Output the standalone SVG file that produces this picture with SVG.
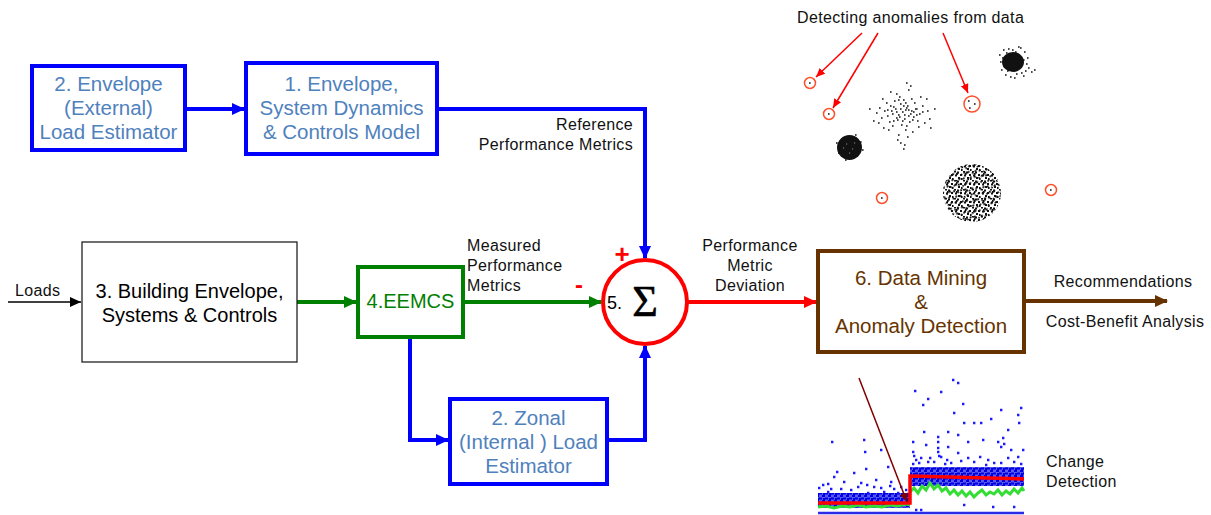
<svg xmlns="http://www.w3.org/2000/svg" width="1211" height="515" viewBox="0 0 1211 515">
<defs>
<style>
text{font-family:"Liberation Sans",Arial,sans-serif}
.bt{font-size:20.5px;fill:#4F81BD;text-anchor:middle}
.lb{font-size:16px;letter-spacing:0.35px;fill:#111}
.bbox{fill:#fff;stroke:#0000FF;stroke-width:4}
.blue{fill:none;stroke:#0000FF;stroke-width:4}
.green{fill:none;stroke:#008000;stroke-width:4}
.red{fill:none;stroke:#FF0000;stroke-width:4}
.brown{fill:none;stroke:#663300;stroke-width:4}
.ann{fill:none;stroke:#FF4F2A;stroke-width:1.5}
.dot{fill:none;stroke:#111;stroke-width:1.7}
.bdot{fill:none;stroke:#1a1aff;stroke-width:2.6}
</style>
<marker id="ab" markerUnits="userSpaceOnUse" markerWidth="14" markerHeight="14" refX="12" refY="7" orient="auto"><path d="M0,1 L13,7 L0,13 z" fill="#0000FF"/></marker>
<marker id="ag" markerUnits="userSpaceOnUse" markerWidth="14" markerHeight="14" refX="12" refY="7" orient="auto"><path d="M0,1 L13,7 L0,13 z" fill="#008000"/></marker>
<marker id="ar" markerUnits="userSpaceOnUse" markerWidth="14" markerHeight="14" refX="12" refY="7" orient="auto"><path d="M0,1 L13,7 L0,13 z" fill="#FF0000"/></marker>
<marker id="abr" markerUnits="userSpaceOnUse" markerWidth="14" markerHeight="14" refX="12" refY="7" orient="auto"><path d="M0,1 L13,7 L0,13 z" fill="#663300"/></marker>
<marker id="ak" markerUnits="userSpaceOnUse" markerWidth="12" markerHeight="12" refX="11" refY="6" orient="auto"><path d="M0,1 L11,6 L0,11 z" fill="#000"/></marker>
<marker id="athin" markerUnits="userSpaceOnUse" markerWidth="10" markerHeight="10" refX="9" refY="5" orient="auto"><path d="M0,1 L9,5 L0,9 z" fill="#FF0000"/></marker>
<marker id="amr" markerUnits="userSpaceOnUse" markerWidth="10" markerHeight="10" refX="9" refY="5" orient="auto"><path d="M0,1 L9,5 L0,9 z" fill="#800000"/></marker>
<pattern id="stip1" width="9" height="9" patternUnits="userSpaceOnUse"><path d="M0,0.5h2M3,1.5h2M6,4h2M1,4.5h2M4,7h2M7,8h1.6M2,3h1.6" stroke="#111" stroke-width="1.8"/></pattern>
<pattern id="stip2" width="8" height="8" patternUnits="userSpaceOnUse" patternTransform="rotate(37)"><path d="M0,0.5h2M4,2.5h2M1,5.5h2" stroke="#111" stroke-width="1.8"/></pattern>
<pattern id="bband" width="6" height="5" patternUnits="userSpaceOnUse"><rect width="6" height="5" fill="#5a5af0"/><path d="M0,1h3M3,3.5h3M1,4h2" stroke="#0000e0" stroke-width="2"/></pattern>
<clipPath id="bigc"><circle cx="972" cy="193" r="29"/></clipPath>
</defs>
<rect width="1211" height="515" fill="#fff"/>

<g id="connectors">
<path class="blue" d="M185,109 H244" marker-end="url(#ab)"/>
<path class="blue" d="M437,109 H645 V258" marker-end="url(#ab)"/>
<line x1="8" y1="302" x2="81" y2="302" stroke="#000" stroke-width="1.3" marker-end="url(#ak)"/>
<path class="green" d="M297,302 H356" marker-end="url(#ag)"/>
<path class="green" d="M463,302 H601" marker-end="url(#ag)"/>
<path class="blue" d="M410,337 V440 H448" marker-end="url(#ab)"/>
<path class="blue" d="M607,440 H645 V346" marker-end="url(#ab)"/>
<path class="red" d="M687,302 H816" marker-end="url(#ar)"/>
<path class="brown" d="M1024,301 H1167" marker-end="url(#abr)"/>
<text class="lb" x="633" y="130" text-anchor="end">Reference</text>
<text class="lb" x="633" y="150" text-anchor="end">Performance Metrics</text>
<text class="lb" x="467" y="251">Measured</text>
<text class="lb" x="467" y="271">Performance</text>
<text class="lb" x="467" y="291">Metrics</text>
<text class="lb" x="750" y="251" text-anchor="middle">Performance</text>
<text class="lb" x="750" y="271" text-anchor="middle">Metric</text>
<text class="lb" x="750" y="291" text-anchor="middle">Deviation</text>
<text class="lb" x="15" y="296">Loads</text>
<text class="lb" x="1123" y="287" text-anchor="middle">Recommendations</text>
<text class="lb" x="1125" y="327" text-anchor="middle">Cost-Benefit Analysis</text>
<text x="622" y="263" text-anchor="middle" style="font-size:26px;font-weight:bold;fill:#FF0000">+</text>
<text x="579" y="293" text-anchor="middle" style="font-size:24px;font-weight:bold;fill:#FF0000">-</text>
</g>

<g id="node-ext-load">
<rect class="bbox" x="32" y="66" width="153" height="84"/>
<text class="bt" x="108.5" y="91">2. Envelope</text>
<text class="bt" x="108.5" y="115">(External)</text>
<text class="bt" x="108.5" y="139">Load Estimator</text>
</g>

<g id="node-model">
<rect class="bbox" x="246" y="63" width="191" height="91"/>
<text class="bt" x="341.5" y="91">1. Envelope,</text>
<text class="bt" x="341.5" y="115">System Dynamics</text>
<text class="bt" x="341.5" y="139">&amp; Controls Model</text>
</g>

<g id="node-building">
<rect x="82" y="242" width="215" height="120" fill="#fff" stroke="#222" stroke-width="1.3"/>
<text x="189.5" y="298" text-anchor="middle" style="font-size:20px;fill:#000">3. Building Envelope,</text>
<text x="189.5" y="322" text-anchor="middle" style="font-size:20px;fill:#000">Systems &amp; Controls</text>
</g>

<g id="node-eemcs">
<rect x="358" y="267" width="105" height="70" fill="#fff" stroke="#008000" stroke-width="4"/>
<text x="410.5" y="308" text-anchor="middle" style="font-size:20px;fill:#008000">4.EEMCS</text>
</g>

<g id="node-zonal">
<rect class="bbox" x="450" y="399" width="157" height="85"/>
<text class="bt" x="528.5" y="425">2. Zonal</text>
<text class="bt" x="528.5" y="449">(Internal ) Load</text>
<text class="bt" x="528.5" y="473">Estimator</text>
</g>

<g id="node-sum">
<circle cx="645" cy="302" r="42" fill="#fff" stroke="#FF0000" stroke-width="4"/>
<text x="607" y="309" style="font-size:18px;fill:#000">5.</text>
<text x="645" y="316" text-anchor="middle" style="font-family:'Liberation Serif','Times New Roman',serif;font-size:44px;fill:#000;stroke:#000;stroke-width:0.6">Σ</text>
</g>

<g id="node-datamining">
<rect x="818" y="251" width="206" height="101" fill="#fff" stroke="#663300" stroke-width="4"/>
<text x="921" y="285" text-anchor="middle" style="font-size:20.5px;fill:#663300">6. Data Mining</text>
<text x="921" y="309" text-anchor="middle" style="font-size:20.5px;fill:#663300">&amp;</text>
<text x="921" y="333" text-anchor="middle" style="font-size:20.5px;fill:#663300">Anomaly Detection</text>
</g>

<g id="anomaly-illustration">
<text class="lb" x="797" y="23">Detecting anomalies from data</text>
<path d="M862,33 L816,77" stroke="#FF0000" stroke-width="1.5" marker-end="url(#athin)"/>
<path d="M878,33 L833,108" stroke="#FF0000" stroke-width="1.5" marker-end="url(#athin)"/>
<path d="M943,33 L968,93" stroke="#FF0000" stroke-width="1.5" marker-end="url(#athin)"/>
<circle class="ann" cx="810" cy="83" r="5.5"/>
<circle class="ann" cx="829" cy="114" r="5.5"/>
<circle class="ann" cx="972" cy="104" r="8"/>
<circle class="ann" cx="882" cy="198" r="5.5"/>
<circle class="ann" cx="1051" cy="190" r="5.5"/>
<path class="dot" d="M809,83h1.6M828,114h1.6M968,101h1.6M974,104h1.6M969,108h1.6M881,198h1.6M1050,190h1.6"/>
<ellipse cx="1013" cy="62" rx="11" ry="10" fill="#111"/>
<path class="dot" d="M999,55h1.6M1001,70h1.6M1003,50h1.6M1020,48h1.6M1027,58h1.6M1028,68h1.6M1031,72h1.6M1023,76h1.6M1010,77h1.6M1005,75h1.6M1018,47h1.6M1008,49h1.6M1000,62h1.6M1026,64h1.6M1034,70h1.6M1014,78h1.6M1003,66h1.6M1024,52h1.6M1006,53h1.6M1016,74h1.6M1025,71h1.6M1002,58h1.6M1004,60h1.6M1023,60h1.6M1021,73h1.6M1007,71h1.6M1012,50h1.6M1015,52h1.6"/>
<circle cx="849.5" cy="147.5" r="12.5" fill="#111"/>
<path class="dot" d="M836,143h1.6M862,150h1.6M845,160h1.6M855,135h1.6M838,153h1.6M860,142h1.6"/>
<path d="M846,144h1.2M852,149h1.2M849,153h1.2M843,148h1.2M854,143h1.2" stroke="#888" stroke-width="1.2"/>
<path class="dot" d="M902,112h1.6M905,110h1.6M898,115h1.6M908,116h1.6M895,109h1.6M904,119h1.6M900,104h1.6M911,111h1.6M892,114h1.6M907,106h1.6M897,120h1.6M913,117h1.6M890,106h1.6M903,100h1.6M901,125h1.6M916,109h1.6M887,116h1.6M909,122h1.6M894,101h1.6M914,103h1.6M889,122h1.6M906,126h1.6M899,97h1.6M919,114h1.6M884,111h1.6M911,99h1.6M892,126h1.6M917,121h1.6M886,103h1.6M922,106h1.6M881,118h1.6M905,130h1.6M896,94h1.6M924,123h1.6M879,108h1.6M912,132h1.6M890,92h1.6M927,111h1.6M876,113h1.6M908,90h1.6M898,135h1.6M920,97h1.6M883,128h1.6M929,119h1.6M897,140h1.6M904,145h1.6M900,143h1.6M910,86h1.6M926,99h1.6M878,123h1.6M915,109h1.6M893,107h1.6M906,108h1.6M899,117h1.6M910,114h1.6M896,112h1.6M902,121h1.6M903,106h1.6M891,111h1.6M913,112h1.6M918,127h1.6M888,130h1.6M922,112h1.6M882,99h1.6M907,137h1.6M930,128h1.6M873,121h1.6M934,109h1.6M869,109h1.6M906,83h1.6M903,149h1.6M904,115h1.6M900,109h1.6M908,110h1.6M896,118h1.6M912,120h1.6M893,121h1.6M905,103h1.6M898,100h1.6M916,115h1.6M887,110h1.6"/>
<g clip-path="url(#bigc)">
<rect x="940" y="160" width="64" height="66" fill="url(#stip1)"/>
<rect x="940" y="160" width="64" height="66" fill="url(#stip2)"/>
</g>
</g>

<g id="change-detection-illustration">
<rect x="818" y="493" width="92" height="15" fill="url(#bband)"/>
<rect x="910" y="467" width="114" height="19" fill="url(#bband)"/>
<path class="bdot" d="M831,442h2.4M863,440h2.4M864,452h2.4M880,450h2.4M887,467h2.4M865,469h2.4M853,473h2.4M836,472h2.4M833,477h2.4M843,482h2.4M860,483h2.4M875,480h2.4M890,482h2.4M900,487h2.4M818,488h2.4M827,492h2.4M850,490h2.4M867,493h2.4M883,492h2.4M897,493h2.4M822,485h2.4M840,489h2.4M873,487h2.4M905,490h2.4M914,391h2.4M940,392h2.4M952,380h2.4M957,383h2.4M927,399h2.4M922,405h2.4M962,404h2.4M953,413h2.4M1000,410h2.4M1020,408h2.4M1017,415h2.4M973,423h2.4M990,419h2.4M980,423h2.4M963,423h2.4M1018,423h2.4M1007,430h2.4M923,432h2.4M947,432h2.4M937,437h2.4M957,435h2.4M912,442h2.4M925,445h2.4M937,442h2.4M947,447h2.4M967,442h2.4M982,440h2.4M997,442h2.4M1000,447h2.4M1010,450h2.4M1022,450h2.4M915,460h2.4M927,462h2.4M940,457h2.4M957,453h2.4M967,458h2.4M987,460h2.4M1007,458h2.4M1017,457h2.4M918,463h2.4M933,462h2.4M950,463h2.4M973,462h2.4M993,463h2.4M1013,462h2.4M937,448h2.4M937,452h2.4M938,456h2.4M912,452h2.4M913,456h2.4M1002,438h2.4M1003,444h2.4M963,505h2.4M992,507h2.4M1013,507h2.4M915,510h2.4M920,510h2.4M929,458h2.4M946,460h2.4M979,457h2.4M912,464h2.4M920,458h2.4M944,464h2.4M960,461h2.4M985,465h2.4M1000,463h2.4M1020,464h2.4M830,489h2.4M857,487h2.4M880,488h2.4M893,489h2.4M889,486h2.4M827,484h2.4M866,485h2.4"/>
<line x1="818" y1="513" x2="1024" y2="513" stroke="#2a2ae8" stroke-width="2.5"/>
<polyline points="818,507 826,506 834,508 842,506 850,507 858,505 866,507 874,506 882,507 890,505 898,506 906,504 910,505" fill="none" stroke="#33dd33" stroke-width="3"/>
<polyline points="910,492 914,488 918,493 922,486 926,490 930,483 934,489 938,485 942,491 946,488 950,494 954,490 958,495 962,491 966,496 970,492 974,497 978,493 982,490 986,495 990,492 994,494 998,490 1002,495 1006,491 1010,494 1014,489 1018,493 1022,488 1024,491" fill="none" stroke="#33dd33" stroke-width="3"/>
<path d="M818,503 H910 V476 L1024,479" fill="none" stroke="#FF0000" stroke-width="3.5"/>
<line x1="859" y1="378" x2="907" y2="502" stroke="#800000" stroke-width="1.5" marker-end="url(#amr)"/>
<text class="lb" x="1046" y="467">Change</text>
<text class="lb" x="1046" y="487">Detection</text>
</g>
</svg>
